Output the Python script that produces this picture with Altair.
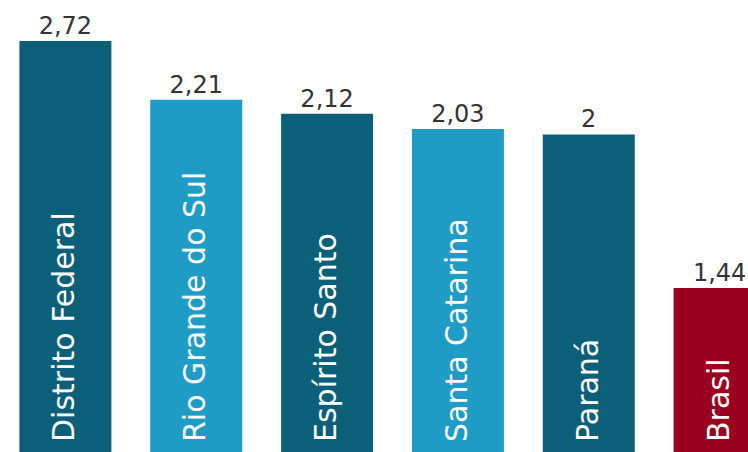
import altair as alt
import pandas as pd

categories = ["Distrito Federal", "Rio Grande do Sul", "Espírito Santo",
              "Santa Catarina", "Paraná", "Brasil"]
values = [2.72, 2.21, 2.12, 2.03, 2.0, 1.44]
value_labels = ["2,72", "2,21", "2,12", "2,03", "2", "1,44"]
groups = ["a", "b", "a", "b", "a", "br"]

group_domain = ["a", "b", "br"]
group_colors = ["#0c5f79", "#1e9cc6", "#9a0020"]

df = pd.DataFrame({"cat": categories, "v": values, "lab": value_labels, "g": groups})

Y_MIN, Y_MAX = 1.1327, 3.288
FONT = "DejaVu Sans"

x = alt.X("cat:N", sort=categories, axis=None,
          scale=alt.Scale(range=[19.4, 765.6], paddingInner=0.2968, paddingOuter=0))
y_scale = alt.Scale(type="pow", exponent=-1.35, domain=[Y_MIN, Y_MAX],
                    zero=False, nice=False)

base = alt.Chart(df)

bars = base.mark_bar(clip=True).encode(
    x=x,
    y=alt.Y("v:Q", scale=y_scale, axis=None),
    y2=alt.datum(Y_MIN),
    color=alt.Color("g:N", scale=alt.Scale(domain=group_domain, range=group_colors), legend=None),
)

vals = base.mark_text(clip=True, font=FONT, fontSize=24, color="#333333",
                      baseline="alphabetic", dy=-7).encode(
    x=x,
    y=alt.Y("v:Q", scale=y_scale, axis=None),
    text="lab:N",
)

names = base.mark_text(clip=True, font=FONT, fontSize=30, color="white",
                       angle=270, align="left", baseline="middle", dx=10).encode(
    x=x,
    y=alt.datum(Y_MIN),
    text="cat:N",
)

chart = (bars + vals + names).properties(
    width=748, height=452, padding=0, autosize=alt.AutoSizeParams(type="none"),
    background="white",
).configure_view(strokeWidth=0)

chart.save("out.html", embed_options={"renderer": "svg", "actions": False})
